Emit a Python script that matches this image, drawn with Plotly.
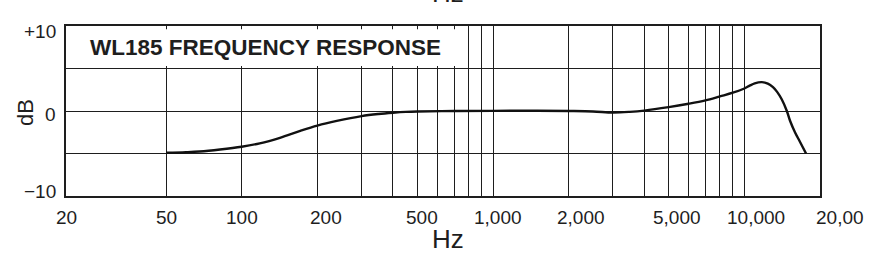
import math
import plotly.graph_objects as go

# ---- data ----
freq_hz = [50, 60, 68, 82, 100, 118, 142, 171, 200, 239, 300, 350, 400, 450, 500, 700,
           1000, 1500, 2000, 2500, 3000, 3500, 4000, 5000, 6000, 7000, 8000, 9000,
           10000, 10500, 11000, 11700, 12400, 13000, 13500, 14100, 14760, 15200, 15900, 16700, 17600]
response_db = [-4.92, -4.85, -4.77, -4.53, -4.2, -3.8, -3.15, -2.34, -1.72, -1.17, -0.6, -0.35, -0.2, -0.1, -0.05, 0.0,
               0.02, 0.03, 0.0, -0.05, -0.18, -0.1, 0.05, 0.45, 0.85, 1.25, 1.72, 2.15,
               2.65, 2.98, 3.25, 3.4, 3.22, 2.8, 2.25, 1.35, 0.0, -1.15, -2.5, -3.7, -5.0]

grid_freqs = [20, 50, 100, 200, 300, 400, 500, 600, 700, 800, 900, 1000,
              2000, 3000, 4000, 5000, 6000, 7000, 8000, 9000, 10000, 20000]
grid_db = [-10, -5, 0, 5, 10]

x_label_vals = [20, 50, 100, 200, 500, 1000, 2000, 5000, 10000, 20000]
x_label_text = ["20", "50", "100", "200", "500", "1,000", "2,000", "5,000", "10,000", "20,00"]
x_label_shift = [0, 0, 0, 9, 5, 5, 12, 8, 12, 20]

y_label_vals = [10, 0, -10]
y_label_text = ["+10", "0", "\u221210"]
y_label_shift = [-5.7, -3.5, 4.5]

title_text = "WL185 FREQUENCY RESPONSE"

FONT = "Liberation Sans, Arial, sans-serif"
INK = "#1e1e1e"

fig = go.Figure()
fig.add_trace(go.Scatter(
    x=freq_hz, y=response_db, mode="lines",
    line=dict(color="#111111", width=2.4, shape="spline", smoothing=1.0),
    hoverinfo="skip", showlegend=False))

fig.update_xaxes(type="log", range=[math.log10(20), math.log10(20000)],
                 tickvals=grid_freqs, showticklabels=False, ticks="",
                 showgrid=True, gridcolor=INK, gridwidth=1.3,
                 showline=True, mirror=True, linecolor=INK, linewidth=1.6,
                 zeroline=False)
fig.update_yaxes(range=[-10, 10], tickvals=grid_db, showticklabels=False, ticks="",
                 showgrid=True, gridcolor=INK, gridwidth=1.3,
                 showline=True, mirror=True, linecolor=INK, linewidth=1.6,
                 zeroline=False)

# white title box covering grid lines
fig.add_shape(type="rect", xref="x", yref="y", x0=20.4, x1=790, y0=5.3, y1=9.62,
              fillcolor="white", line=dict(width=0), layer="between")

annotations = []
annotations.append(dict(text=f"<b>{title_text}</b>", xref="paper", yref="paper",
                        x=(265.5 - 66) / 754, y=(196 - 47.5) / 170, xanchor="center", yanchor="middle",
                        showarrow=False, font=dict(family=FONT, size=22.5, color=INK)))
for v, t, s in zip(x_label_vals, x_label_text, x_label_shift):
    annotations.append(dict(text=t, xref="x", yref="paper", x=math.log10(v), y=0,
                            xanchor="center", yanchor="middle", xshift=s, yshift=-21,
                            showarrow=False, font=dict(family=FONT, size=19, color=INK)))
for v, t, s in zip(y_label_vals, y_label_text, y_label_shift):
    annotations.append(dict(text=t, xref="paper", yref="y", x=0, y=v,
                            xanchor="right", yanchor="middle", xshift=-8, yshift=s,
                            showarrow=False, font=dict(family=FONT, size=19, color=INK)))
annotations.append(dict(text="dB", xref="paper", yref="y", x=0, y=0, textangle=-90,
                        xanchor="center", yanchor="middle", xshift=-41, yshift=-2,
                        showarrow=False, font=dict(family=FONT, size=22, color=INK)))
annotations.append(dict(text="Hz", xref="paper", yref="paper", x=(447.5 - 66) / 754, y=0,
                        xanchor="center", yanchor="middle", xshift=0, yshift=-43,
                        showarrow=False, font=dict(family=FONT, size=26, color=INK)))
# partially visible "Hz" from the chart above, cut by the top edge as in the original
annotations.append(dict(text="Hz", xref="paper", yref="paper", x=(447.5 - 66) / 754, y=1,
                        xanchor="center", yanchor="middle", xshift=0, yshift=33,
                        showarrow=False, font=dict(family=FONT, size=26, color=INK)))

fig.update_layout(width=890, height=258, margin=dict(l=66, r=70, t=26, b=62),
                  paper_bgcolor="white", plot_bgcolor="white",
                  annotations=annotations, showlegend=False)

fig.write_html("out.html")
